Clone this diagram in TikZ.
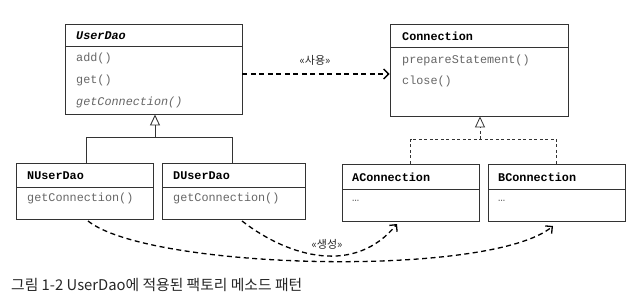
\documentclass[tikz,border=0pt]{standalone}
\usepackage{fontspec}
\setmonofont{Liberation Mono}
\newfontfamily\krfont{Noto Sans CJK KR}
\usetikzlibrary{arrows.meta}
\definecolor{boxc}{HTML}{333333}
\definecolor{methc}{HTML}{666666}
\begin{document}
\begin{tikzpicture}[x=1pt,y=-1pt,
  umlbox/.style={draw=boxc, line width=0.9pt, rectangle, inner sep=0pt},
  sepline/.style={draw=boxc, line width=0.9pt},
  clsname/.style={anchor=west, inner sep=0pt, font=\ttfamily\bfseries\fontsize{11.8}{12}\selectfont},
  meth/.style={anchor=west, inner sep=0pt, text=methc, font=\ttfamily\fontsize{11.8}{12}\selectfont},
  inherit/.style={draw=boxc, line width=0.9pt, -{Triangle[open, length=11pt, width=10pt]}},
  realize/.style={draw=boxc, line width=0.8pt, dash pattern=on 3pt off 2.5pt, -{Triangle[open, length=11pt, width=10pt]}},
  depend/.style={draw=black, line width=1.3pt, dash pattern=on 5pt off 3.5pt, -{Straight Barb[length=5pt, width=10pt]}},
  stereo/.style={inner sep=0pt, text=black!85, font=\krfont\fontsize{11}{12}\selectfont},
]
\useasboundingbox (0,0) rectangle (641,297);
% UserDao
\node[umlbox, minimum width=177pt, minimum height=90pt] (ud) at (153.5,69) {};
\draw[sepline] (65,46) -- (242,46);
\node[clsname, font=\ttfamily\bfseries\itshape\fontsize{11.8}{12}\selectfont] (udn) at (76,36) {UserDao};
\node[meth] (ud1) at (76,58) {add()};
\node[meth] (ud2) at (76,80) {get()};
\node[meth, font=\ttfamily\itshape\fontsize{11.8}{12}\selectfont] (ud3) at (76,102) {getConnection()};
% Connection
\node[umlbox, minimum width=178pt, minimum height=92pt] (cn) at (479,70) {};
\draw[sepline] (390,47) -- (568,47);
\node[clsname] (cnn) at (402,36) {Connection};
\node[meth] (cn1) at (402,60) {prepareStatement()};
\node[meth] (cn2) at (402,81) {close()};
% NUserDao
\node[umlbox, minimum width=137pt, minimum height=56pt] (nu) at (84.5,191) {};
\draw[sepline] (16,187) -- (153,187);
\node[clsname] (nun) at (27,176) {NUserDao};
\node[meth] (nu1) at (27,198) {getConnection()};
% DUserDao
\node[umlbox, minimum width=143pt, minimum height=56pt] (du) at (233.5,191) {};
\draw[sepline] (162,187) -- (305,187);
\node[clsname] (dun) at (173,176) {DUserDao};
\node[meth] (du1) at (173,198) {getConnection()};
% AConnection
\node[umlbox, minimum width=137pt, minimum height=57pt] (ac) at (410.5,192.5) {};
\draw[sepline] (342,189) -- (479,189);
\node[clsname] (acn) at (352,177) {AConnection};
\node[meth] (ac1) at (352,201) {…};
% BConnection
\node[umlbox, minimum width=137pt, minimum height=57pt] (bc) at (556.5,192.5) {};
\draw[sepline] (488,189) -- (625,189);
\node[clsname] (bcn) at (498,177) {BConnection};
\node[meth] (bc1) at (498,201) {…};
% inheritance
\coordinate (ujn) at (155,137);
\draw[sepline] (nu.north -| 86,0) -- (86,137) -- (232,137) -- (du.north -| 232,0);
\draw[inherit] (ujn) -- (ud.south -| ujn);
\coordinate (cjn) at (480,139);
\draw[draw=boxc, line width=0.8pt, dash pattern=on 3pt off 2.5pt] (ac.north) -- (ac.north |- cjn) -- (bc.north |- cjn) -- (bc.north);
\draw[realize] (cjn) -- (cn.south -| cjn);
% usage
\draw[depend] (ud.east |- 0,74) -- (cn.west |- 0,74);
\node[stereo] (use) at (315,60) {«사용»};
% creation
\coordinate (nout) at (88,221);
\coordinate (dout) at (242,221);
\coordinate (ain) at (397,224);
\coordinate (bin) at (553,226);
\draw[depend] (nout) .. controls (150,270) and (490,278) .. (bin);
\draw[depend] (dout) .. controls (290,258) and (355,275) .. (ain);
\node[stereo] (make) at (327,244) {«생성»};
% caption
\node[anchor=west, inner sep=0pt, text=black!85, font=\krfont\fontsize{14.8}{16}\selectfont] (cap) at (11,285) {그림 1-2 UserDao에 적용된 팩토리 메소드 패턴};
\end{tikzpicture}
\end{document}
